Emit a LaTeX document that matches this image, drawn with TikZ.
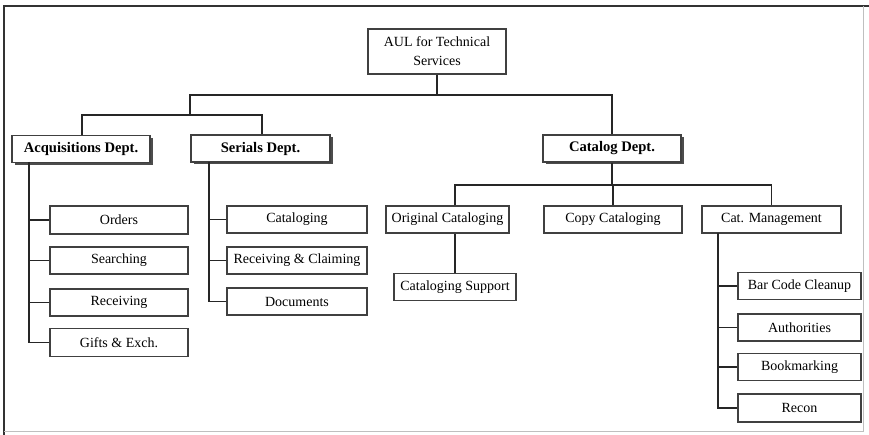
\documentclass[tikz,border=0pt]{standalone}
\usepackage{fontspec}
\setmainfont{Liberation Serif}
\usetikzlibrary{shadows}
\begin{document}
\begin{tikzpicture}[x=1pt,y=-1pt,
  conn/.style={draw=black!85,line width=1.8pt},
  box/.style={draw=black!75,line width=1.2pt,fill=white,rectangle,inner sep=0pt,
    minimum width=138pt,minimum height=27pt,font=\fontsize{14}{19}\selectfont,align=center},
  dept/.style={box,font=\fontsize{14.6}{17}\selectfont\bfseries,
    drop shadow={shadow xshift=2.5pt,shadow yshift=-2.5pt,fill=black!70,opacity=1}}]
\useasboundingbox (0,0) rectangle (869,435);
% outer frame
\draw[black!80,line width=1.6pt] (4,435) -- (4,6) -- (869,6);
\draw[black!25,line width=1pt] (863,6) -- (863,431) -- (4,431);

% top level
\node[box,minimum height=45pt] (aul) at (437,51.5) {AUL for Technical\\Services};

% departments
\node[dept] (acq) at (81,149) {Acquisitions Dept.};
\node[dept,minimum width=139pt] (ser) at (260.5,148.5) {Serials Dept.};
\node[dept] (cat) at (612,148.5) {Catalog Dept.};

% acquisitions units
\node[box,minimum height=28pt] (orders) at (119,220) {Orders};
\node[box] (searching) at (119,260.5) {Searching};
\node[box] (receiving) at (119,302.5) {Receiving};
\node[box,minimum height=28pt] (gifts) at (119,342.5) {Gifts \& Exch.};

% serials units
\node[box,minimum width=140pt] (scat) at (297,219.5) {Cataloging};
\node[box,minimum width=140pt] (srec) at (297,260.5) {Receiving \& Claiming};
\node[box,minimum width=140pt] (sdoc) at (297,301.5) {Documents};

% catalog units
\node[box,minimum width=123pt] (orig) at (447.5,219.5) {Original Cataloging};
\node[box] (copy) at (613,219.5) {Copy Cataloging};
\node[box,minimum width=139pt] (mgmt) at (771.5,219.5) {Cat. Management};
\node[box,minimum width=122pt] (support) at (455,287) {Cataloging Support};
\node[box,minimum width=123pt] (barcode) at (799.5,286) {Bar Code Cleanup};
\node[box,minimum width=123pt] (auth) at (799.5,327.5) {Authorities};
\node[box,minimum width=123pt] (book) at (799.5,367) {Bookmarking};
\node[box,minimum width=123pt,minimum height=28pt] (recon) at (799.5,408) {Recon};

% junction points
\coordinate (topbus) at (190,95);
\coordinate (leftbus) at (190,115);
\coordinate (acqspine) at (29,162);
\coordinate (serspine) at (209,162);
\coordinate (catbus) at (613,185);
\coordinate (mgmtspine) at (718,233);

% connectors: top level
\draw[conn] (aul.south) -- (aul.south |- topbus);
\draw[conn] (leftbus) -- (topbus) -| (cat.north);
\draw[conn] (acq.north -| 82,0) |- (leftbus) -| (ser.north -| 262,0);

% acquisitions spine
\draw[conn] (acqspine) |- (gifts.west);
\foreach \n in {orders,searching,receiving}
  \draw[conn] (\n.west) -- (\n.west -| acqspine);

% serials spine
\draw[conn,line width=1.4pt] (serspine) |- (sdoc.west);
\foreach \n in {scat,srec}
  \draw[conn] (\n.west) -- (\n.west -| serspine);

% catalog branches
\draw[conn] (cat.south) -- (cat.south |- catbus);
\draw[conn] (orig.north -| support) |- (catbus) -| (mgmt.north);
\draw[conn] (copy.north) -- (copy.north |- catbus);
\draw[conn] (support.north) -- (support.north |- orig.south);

% catalog management spine
\draw[conn] (mgmtspine) |- (recon.west);
\foreach \n in {barcode,auth,book}
  \draw[conn] (\n.west) -- (\n.west -| mgmtspine);
\end{tikzpicture}
\end{document}
